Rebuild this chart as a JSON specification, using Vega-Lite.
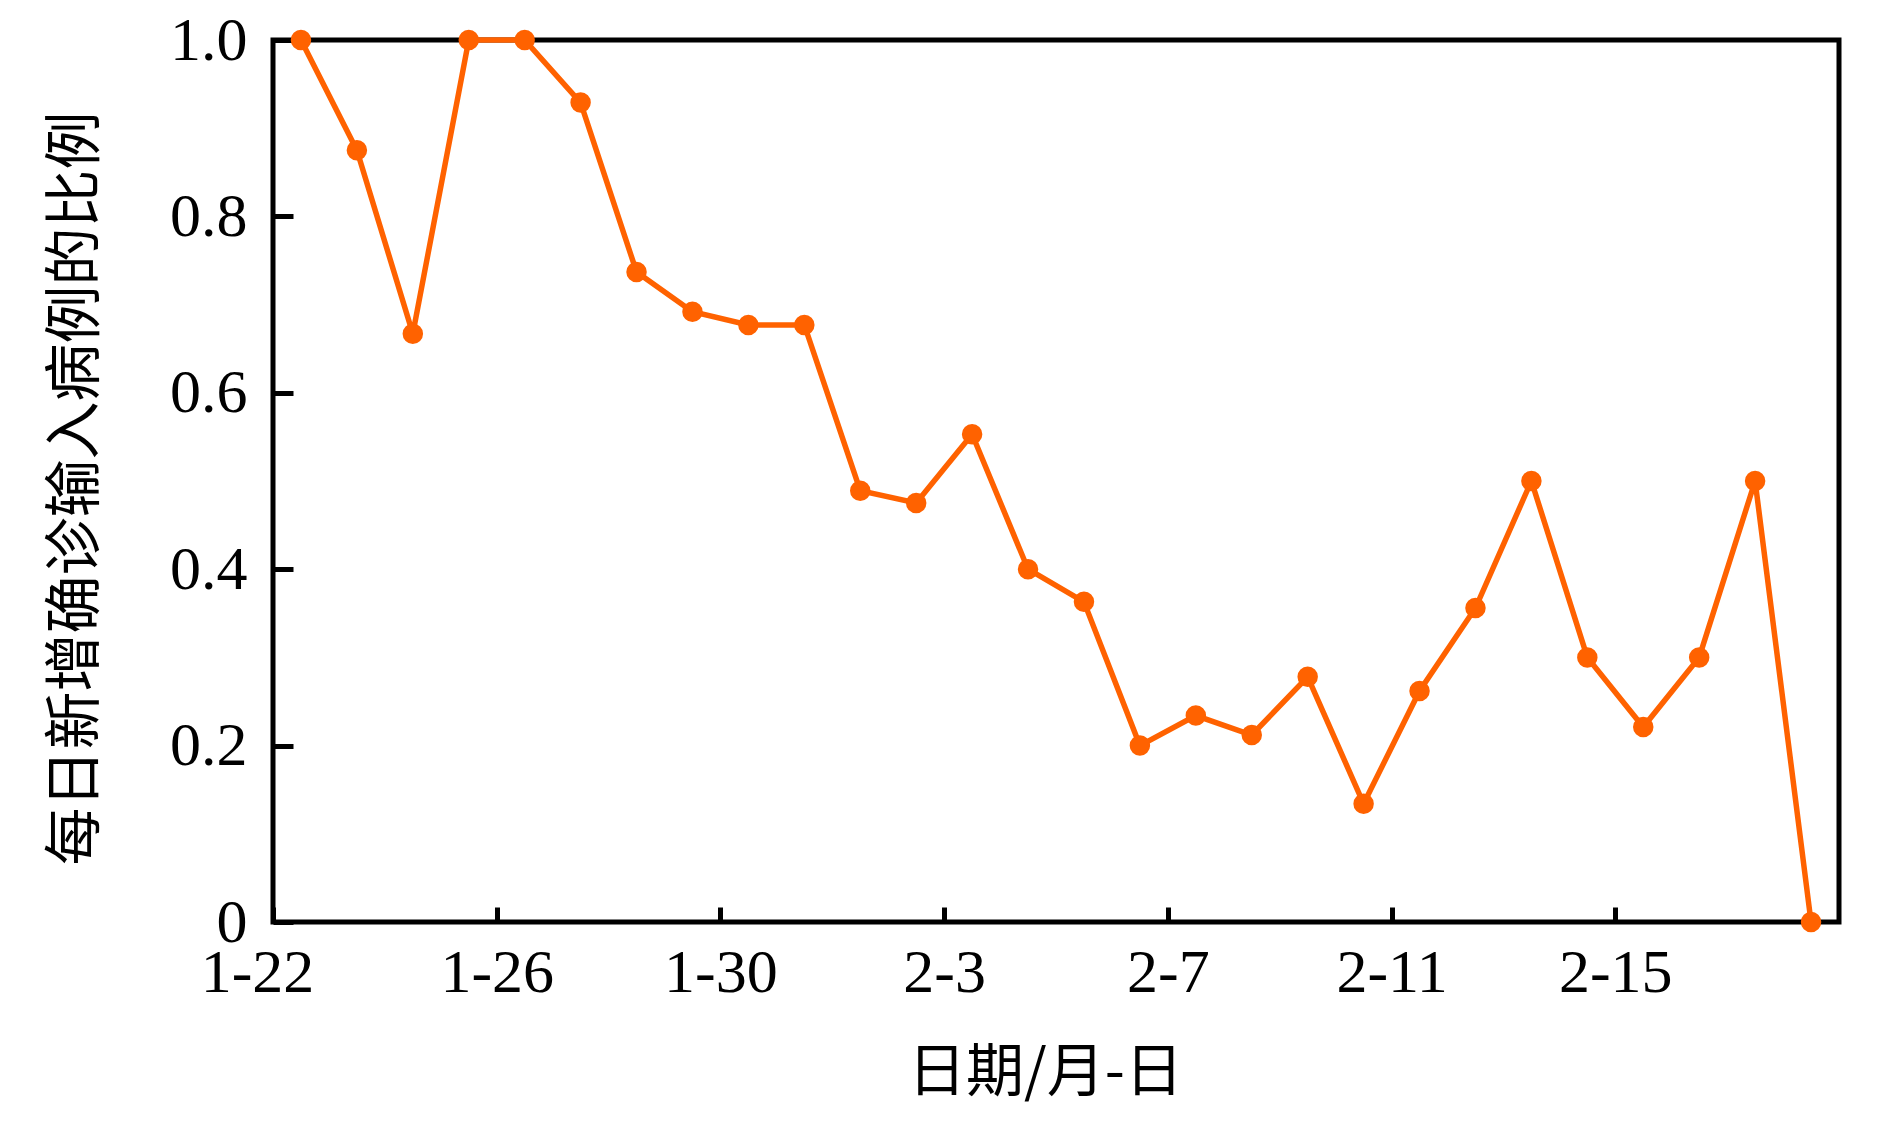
{
  "$schema": "https://vega.github.io/schema/vega-lite/v6.json",
  "width": 1566,
  "height": 882,
  "autosize": {"type": "none"},
  "padding": {"left": 273, "top": 40, "right": 51, "bottom": 212},
  "background": "white",
  "config": {
    "view": {"stroke": "black", "strokeWidth": 5},
    "axis": {"grid": false, "domain": false, "tickColor": "black", "tickWidth": 5, "labelColor": "black", "titleColor": "black", "labelFont": "Liberation Serif", "labelFontSize": 62, "titleFont": "Noto Sans CJK SC", "titleFontWeight": "normal", "titleFontSize": 58}
  },
  "data": {
    "values": [
      {"date": "2020-01-22T12:00:00", "ratio": 1.0},
      {"date": "2020-01-23T12:00:00", "ratio": 0.875},
      {"date": "2020-01-24T12:00:00", "ratio": 0.667},
      {"date": "2020-01-25T12:00:00", "ratio": 1.0},
      {"date": "2020-01-26T12:00:00", "ratio": 1.0},
      {"date": "2020-01-27T12:00:00", "ratio": 0.929},
      {"date": "2020-01-28T12:00:00", "ratio": 0.737},
      {"date": "2020-01-29T12:00:00", "ratio": 0.692},
      {"date": "2020-01-30T12:00:00", "ratio": 0.677},
      {"date": "2020-01-31T12:00:00", "ratio": 0.677},
      {"date": "2020-02-01T12:00:00", "ratio": 0.489},
      {"date": "2020-02-02T12:00:00", "ratio": 0.475},
      {"date": "2020-02-03T12:00:00", "ratio": 0.553},
      {"date": "2020-02-04T12:00:00", "ratio": 0.4},
      {"date": "2020-02-05T12:00:00", "ratio": 0.363},
      {"date": "2020-02-06T12:00:00", "ratio": 0.2},
      {"date": "2020-02-07T12:00:00", "ratio": 0.234},
      {"date": "2020-02-08T12:00:00", "ratio": 0.212},
      {"date": "2020-02-09T12:00:00", "ratio": 0.278},
      {"date": "2020-02-10T12:00:00", "ratio": 0.134},
      {"date": "2020-02-11T12:00:00", "ratio": 0.262},
      {"date": "2020-02-12T12:00:00", "ratio": 0.356},
      {"date": "2020-02-13T12:00:00", "ratio": 0.5},
      {"date": "2020-02-14T12:00:00", "ratio": 0.3},
      {"date": "2020-02-15T12:00:00", "ratio": 0.221},
      {"date": "2020-02-16T12:00:00", "ratio": 0.3},
      {"date": "2020-02-17T12:00:00", "ratio": 0.5},
      {"date": "2020-02-18T12:00:00", "ratio": 0.0}
    ]
  },
  "encoding": {
    "x": {
      "field": "date",
      "type": "temporal",
      "scale": {"domain": [{"year": 2020, "month": 1, "date": 22}, {"year": 2020, "month": 2, "date": 19}]},
      "axis": {
        "title": "日期/月-日",
        "values": [
          {"year": 2020, "month": 1, "date": 22},
          {"year": 2020, "month": 1, "date": 26},
          {"year": 2020, "month": 1, "date": 30},
          {"year": 2020, "month": 2, "date": 3},
          {"year": 2020, "month": 2, "date": 7},
          {"year": 2020, "month": 2, "date": 11},
          {"year": 2020, "month": 2, "date": 15}
        ],
        "format": "%-m-%-d",
        "tickSize": -15,
        "labelPadding": 35,
        "labelOffset": {"condition": {"test": "datum.label == '1-22'", "value": -16}, "value": 0},
        "labelFlush": false,
        "labelOverlap": false,
        "titleX": 772,
        "titleY": 151,
        "titleBaseline": "middle",
        "titleAlign": "center"
      }
    },
    "y": {
      "field": "ratio",
      "type": "quantitative",
      "scale": {"domain": [0, 1], "nice": false, "zero": true},
      "axis": {
        "title": "每日新增确诊输入病例的比例",
        "values": [0, 0.2, 0.4, 0.6, 0.8, 1.0],
        "labelExpr": "datum.value == 0 ? '0' : format(datum.value, '.1f')",
        "tickSize": -20,
        "labelPadding": 46,
        "labelFlush": false,
        "titleX": -197,
        "titleY": 448,
        "titleAngle": -90,
        "titleBaseline": "middle",
        "titleAlign": "center"
      }
    }
  },
  "layer": [
    {"mark": {"type": "line", "color": "#ff6200", "strokeWidth": 5.5}},
    {"mark": {"type": "point", "filled": true, "opacity": 1, "color": "#ff6200", "size": 420, "shape": "circle"}}
  ]
}
